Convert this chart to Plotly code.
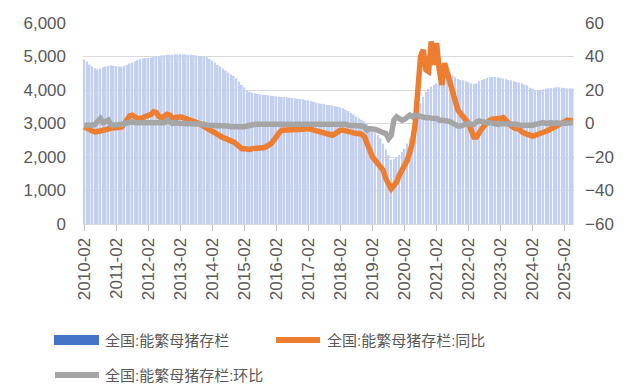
import pandas as pd
import plotly.graph_objects as go

# Monthly categories 2010-02 .. 2025-05
months = [d.strftime("%Y-%m") for d in pd.date_range("2010-02-01", "2025-05-01", freq="MS")]

# 全国:能繁母猪存栏 (万头)
sows = [
    4900, 4850, 4760, 4700, 4650, 4620, 4640, 4680, 4700, 4720, 4730,
    4720, 4710, 4700, 4700, 4720, 4750, 4790, 4820, 4860, 4890, 4920, 4940,
    4950, 4960, 4970, 4990, 5000, 5010, 5030, 5040, 5050, 5050, 5060, 5060,
    5060, 5070, 5060, 5060, 5050, 5050, 5040, 5030, 5020, 5010, 5000, 4980,
    4930, 4880, 4820, 4750, 4700, 4640, 4580, 4520, 4460, 4420, 4350, 4250,
    4150, 4080, 4000, 3950, 3920, 3900, 3880, 3870, 3860, 3850, 3840, 3830,
    3820, 3810, 3800, 3790, 3790, 3780, 3770, 3760, 3750, 3740, 3730, 3720,
    3700, 3690, 3670, 3650, 3620, 3600, 3590, 3580, 3560, 3550, 3540, 3520,
    3500, 3480, 3450, 3410, 3370, 3320, 3270, 3210, 3160, 3110, 3060, 3010,
    2920, 2820, 2740, 2650, 2560, 2400, 2230, 2050, 1920, 1940, 1990, 2060,
    2150, 2250, 2400, 2560, 2750, 2960, 3300, 3600, 3800, 3950, 4030, 4100,
    4150, 4200, 4250, 4320, 4450, 4560, 4520, 4440, 4380, 4330, 4300, 4290,
    4260, 4230, 4200, 4180, 4200, 4260, 4300, 4330, 4360, 4380, 4390, 4390,
    4370, 4360, 4340, 4320, 4300, 4290, 4260, 4240, 4220, 4200, 4160, 4140,
    4070, 4040, 4000, 3990, 4000, 4020, 4040, 4050, 4060, 4070, 4080, 4080,
    4070, 4060, 4050, 4050, 4040,
]

# 同比 (%)
yoy = [
    -2, -3, -4, -4.5, -5, -5, -4.5, -4, -3.5, -3.5, -3,
    -2.5, -2.5, -2.5, -2, 0, 3, 4.5, 5, 3.5, 3, 3, 3.5,
    4, 4.5, 5.5, 7, 6.5, 4, 3.5, 4.5, 5.5, 5, 3.5, 3.5,
    4, 4, 3.5, 3, 2.5, 2, 1.5, 1, 0, -1, -2, -3,
    -4, -5, -6, -7, -7.5, -8.5, -9, -10, -10.5, -11, -12.5, -14,
    -15, -15, -15.5, -15.5, -15, -15, -14.5, -14.5, -14.5, -14, -13, -12,
    -10, -7, -5.5, -4, -4, -4, -4, -4, -4, -4, -4, -3.5,
    -3, -3, -3.5, -4, -4.5, -5, -5, -5.5, -6, -6.5, -7, -6,
    -5, -4, -4, -4.5, -5, -5, -5.5, -6, -6, -6.5, -8, -12,
    -18, -20, -22, -24, -26, -28, -33, -37, -39, -37, -35, -31,
    -28, -25, -22, -17, -11, 0, 20, 40, 44, 32, 31, 49,
    35, 48, 32, 23, 36, 30, 26, 20, 12, 8, 6, 4,
    2, 0, -4, -8, -8, -5, -3, -1, 1, 2, 2.5, 3,
    3, 3, 3.5, 2, 0, -1.5, -2.5, -3, -3.5, -5, -6, -6.5,
    -7, -7.5, -7, -6.5, -6, -5, -4.5, -4, -3, -2.5, -1.5, -0.5,
    0, 1, 2, 2, 1.5,
]

# 环比 (%)
mom = [
    -1, -1, -1.5, -1, -0.5, 1, 3, 0.5, 1, 2, -1,
    -1, -1, -1, -0.5, 0, 0.5, 1, 1, 0.5, 0.5, 0.5, 0.5,
    0, 0.5, 0.5, 0.5, 0.5, 0.5, 0.5, 0.5, 2, 0.5, 0, 0.5,
    0, 0, 0, 0, -0.5, 0, 0, -0.5, 0, -0.5, -0.5, -1,
    -1, -1, -1, -1, -1.5, -1.5, -1.5, -1.5, -2, -2, -2, -2,
    -2.5, -2, -1.5, -1, -1, -0.5, -0.5, -0.5, -0.5, -0.5, -0.5, -0.5,
    -0.5, -0.5, 0, 0, 0, 0, 0, -0.5, 0, -0.5, 0, 0,
    0, -0.5, -0.5, -0.5, -0.5, -0.5, 0, -0.5, -0.5, 0, 0, -0.5,
    -0.5, -0.5, -0.5, -0.5, -1, -1, -1, -1, -1, -1.5, -2, -4,
    -3, -3, -3.5, -4, -5, -5.5, -6, -9, -7, 2, 4, 3,
    2, 2.5, 4, 5, 4, 5, 4.5, 4, 4, 3.5, 3.5, 3,
    3, 3, 2, 2, 2, 1.5, 1, 0, -1, -1.5, -1.5, -1,
    -0.5, 0, -0.5, -0.5, 1, 1.5, 1, 0.5, 0.5, 0.5, 0, 0,
    -0.5, 0, 0, -0.5, -0.5, -0.5, -0.5, -0.5, -1, -1, -1, -1.5,
    -1, -1, -0.5, 0, 0.5, 0.5, 0, 0.5, 0.5, 0, 0.5, 0,
    0, 0, 0.5, 0, 0.5,
]

tick_labels = [m for m in months if m.endswith("-02")]

names = ["全国:能繁母猪存栏", "全国:能繁母猪存栏:同比", "全国:能繁母猪存栏:环比"]
c_bar, c_yoy, c_mom = "#4472C4", "#ED7D31", "#A5A5A5"
txt = "#595959"
FONT = "Liberation Sans, Arial, Noto Sans CJK SC, sans-serif"

# page body has an 8px margin: lay out in page pixels, then shift by 8
OFF = 8
W, H = 624 - OFF, 390 - OFF
L, R, T, B = 83 - OFF, 574 - OFF, 23 - OFF, 224 - OFF

fig = go.Figure()
fig.add_trace(go.Bar(x=months, y=sows, name=names[0],
                     marker=dict(color="#c3d0f0", line=dict(width=0)), yaxis="y"))
fig.add_trace(go.Scatter(x=months, y=yoy, name=names[1], mode="lines",
                         line=dict(color=c_yoy, width=5.5), yaxis="y2"))
fig.add_trace(go.Scatter(x=months, y=mom, name=names[2], mode="lines",
                         line=dict(color=c_mom, width=5.5), yaxis="y2"))

def px(x):
    return (x - OFF - L) / (R - L)

def py(y):
    return (B - (y - OFF)) / (B - T)

shapes = [
    dict(type="rect", xref="paper", yref="paper", x0=px(54), x1=px(99), y0=py(335), y1=py(345),
         fillcolor=c_bar, line=dict(width=0)),
    dict(type="line", xref="paper", yref="paper", x0=px(276), x1=px(320), y0=py(340), y1=py(340),
         line=dict(color=c_yoy, width=6)),
    dict(type="line", xref="paper", yref="paper", x0=px(55), x1=px(99), y0=py(375), y1=py(375),
         line=dict(color=c_mom, width=6)),
]
LEG = 15
annotations = [
    dict(text=names[0], x=px(103), y=py(340), xref="paper", yref="paper", xanchor="left", yanchor="middle",
         showarrow=False, font=dict(size=LEG, color=txt)),
    dict(text=names[1], x=px(325), y=py(340), xref="paper", yref="paper", xanchor="left", yanchor="middle",
         showarrow=False, font=dict(size=LEG, color=txt)),
    dict(text=names[2], x=px(103), y=py(375), xref="paper", yref="paper", xanchor="left", yanchor="middle",
         showarrow=False, font=dict(size=LEG, color=txt)),
]

fig.update_layout(
    width=W, height=H,
    margin=dict(l=L, r=W - R, t=T, b=H - B, autoexpand=False),
    paper_bgcolor="white", plot_bgcolor="white",
    font=dict(family=FONT, color=txt, size=17),
    showlegend=False,
    bargap=0.35,
    xaxis=dict(type="category", tickmode="array", tickvals=tick_labels, ticktext=tick_labels,
               tickangle=-90, ticks="outside", ticklen=6, tickcolor="#bfbfbf",
               showline=True, linecolor="#d9d9d9", showgrid=False, tickfont=dict(size=17, color=txt)),
    yaxis=dict(range=[0, 6000], dtick=1000, tickformat=",", showgrid=True, gridcolor="#d9d9d9",
               gridwidth=1, zeroline=False, ticklabelstandoff=16, tickfont=dict(size=17, color=txt)),
    yaxis2=dict(range=[-60, 60], dtick=20, overlaying="y", side="right", showgrid=False, zeroline=False,
                ticklabelstandoff=10, tickfont=dict(size=17, color=txt)),
    shapes=shapes, annotations=annotations,
)

fig.write_html("out.html")
